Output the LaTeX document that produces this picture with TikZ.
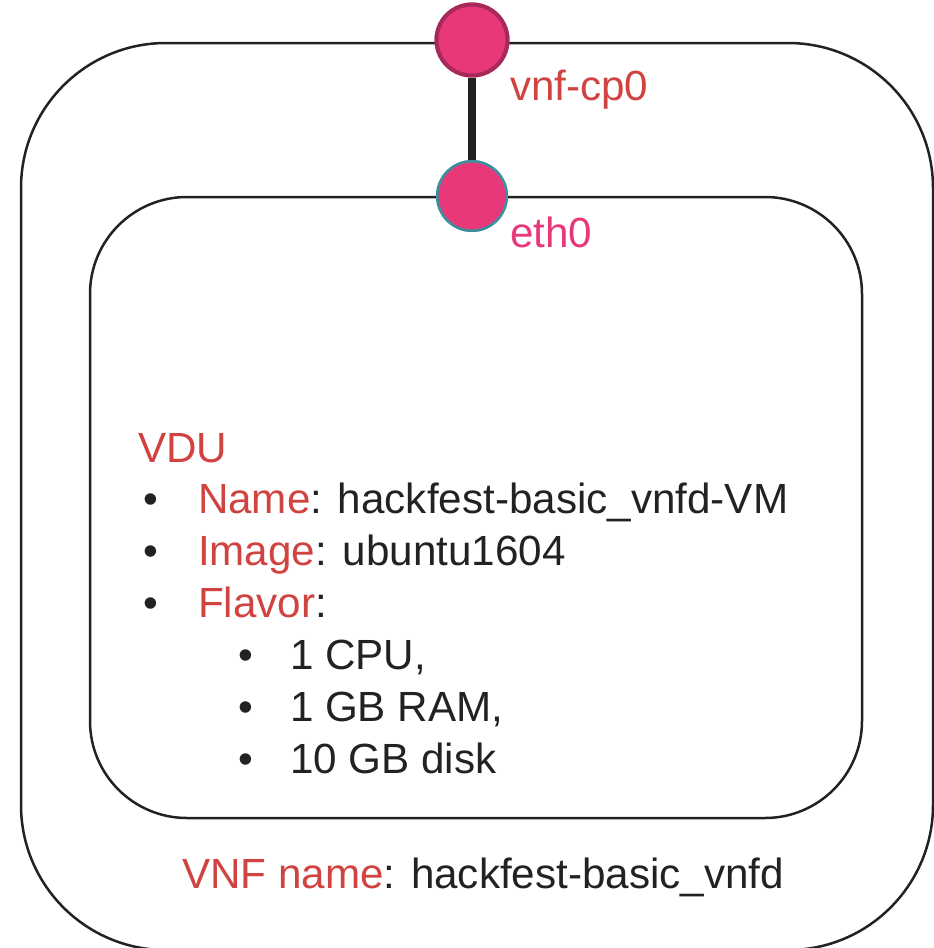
\documentclass[tikz,border=0pt]{standalone}
\usepackage{fontspec}
\setmainfont{Liberation Sans}
\definecolor{labelred}{HTML}{D04340}
\definecolor{portpink}{HTML}{E8387A}
\definecolor{portrim}{HTML}{A8285A}
\definecolor{ethrim}{HTML}{3D8E9E}
\definecolor{inkdark}{HTML}{222222}
\begin{document}
\begin{tikzpicture}[x=1pt,y=-1pt,
  frame/.style={draw=inkdark,line width=2.5pt},
  txt/.style={anchor=base west,inner sep=0pt,outer sep=0pt,text=inkdark,
    font=\fontsize{42.2}{52}\selectfont},
  port/.style={circle,fill=portpink,inner sep=0pt}]
\useasboundingbox (0,0) rectangle (934,948);
% VNF and VDU frames
\draw[frame,rounded corners=145] (21,43) rectangle (933,950);
\draw[frame,rounded corners=97] (90,197) rectangle (862,818);
% connection points
\node[port,draw=portrim,line width=4pt,minimum size=71] (cp) at (472,40) {};
\node[port,draw=ethrim,line width=2.5pt,minimum size=69.5] (eth) at (472,196) {};
\draw[inkdark,line width=8pt] (cp.south) -- (eth.north);
\node[port,draw=portrim,line width=4pt,minimum size=71] at (cp) {};
\node[port,draw=ethrim,line width=2.5pt,minimum size=69.5] at (eth) {};
\node[txt,text=labelred] (cplabel) at (510,100) {vnf-cp0};
\node[txt,text=portpink] (ethlabel) at (510,247) {eth0};
% VDU description
\node[txt,text=labelred] (vdu) at (138,462) {VDU};
\node[txt] (b1) at (143,513) {•};
\node[txt] (name) at (198,513) {\textcolor{labelred}{Name}: hackfest-basic\_vnfd-VM};
\node[txt] (b2) at (143,565) {•};
\node[txt] (image) at (198,565) {\textcolor{labelred}{Image}: ubuntu1604};
\node[txt] (b3) at (143,617) {•};
\node[txt] (flavor) at (198,617) {\textcolor{labelred}{Flavor}:};
\node[txt] (c1) at (238,669) {•};
\node[txt] (cpu) at (290,669) {1 CPU,};
\node[txt] (c2) at (238,721) {•};
\node[txt] (ram) at (290,721) {1 GB RAM,};
\node[txt] (c3) at (238,773) {•};
\node[txt] (disk) at (290,773) {10 GB disk};
% VNF name
\node[txt] (vnfname) at (182,888) {\textcolor{labelred}{VNF name}: hackfest-basic\_vnfd};
\end{tikzpicture}
\end{document}
